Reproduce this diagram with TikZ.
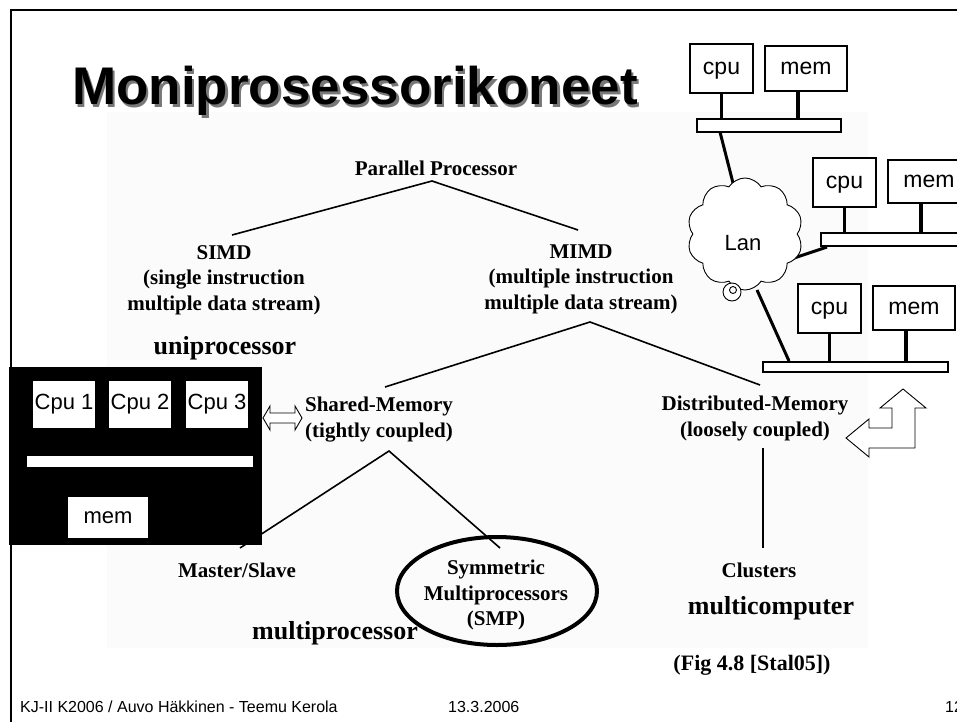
\documentclass[tikz,border=0pt]{standalone}
\usepackage{fontspec}
\setmainfont{Liberation Serif}
\newfontfamily\arialf{Liberation Sans}
\newfontfamily\timesf{Liberation Serif}
\usetikzlibrary{shapes.symbols,shapes.geometric}
\definecolor{scan}{RGB}{251,251,251}
\definecolor{shade}{RGB}{120,120,120}

\begin{document}
\begin{tikzpicture}[x=1pt,y=-1pt,
  lbl/.style={font=\timesf\bfseries\fontsize{21}{25.5}\selectfont, align=center, inner sep=0},
  biglbl/.style={font=\timesf\bfseries\fontsize{26}{30}\selectfont, inner sep=0},
  tree/.style={line width=1.6pt},
  netbox/.style={draw, line width=1.2pt, fill=white, inner sep=0, text depth=0pt, text height=12pt,
                 font=\arialf\fontsize{23}{26}\selectfont},
  netbar/.style={draw, line width=1.2pt, fill=white, inner sep=0},
  stub/.style={line width=3.5pt},
  netline/.style={line width=3pt},
  wbox/.style={fill=white, inner sep=0, font=\arialf\fontsize{22}{24}\selectfont},
  foot/.style={anchor=west, inner sep=0, font=\arialf\fontsize{16}{18}\selectfont}]
\useasboundingbox (0,0) rectangle (957,722);
\clip (0,0) rectangle (957,722);

% slide frame
\draw[line width=2pt] (11,722) -- (11,10) -- (960,10);

% scanned figure area
\fill[scan] (107,112) rectangle (868,648);

% title with drop shadow
\node[anchor=base west, inner sep=0, text=shade,
      font=\arialf\bfseries\fontsize{53}{60}\selectfont] at (74.5,107.5) {Moniprosessorikoneet};
\node[anchor=base west, inner sep=0,
      font=\arialf\bfseries\fontsize{53}{60}\selectfont] (title) at (72,105) {Moniprosessorikoneet};

% classification tree labels
\node[lbl] (pp) at (436,168) {Parallel Processor};
\node[lbl] (simd) at (224,280) {SIMD\\(single instruction\\multiple data stream)};
\node[lbl] (mimd) at (581,279) {MIMD\\(multiple instruction\\multiple data stream)};
\node[biglbl] (uni) at (225,348) {uniprocessor};
\node[lbl] (shm) at (379,419.5) {Shared-Memory\\(tightly coupled)};
\node[lbl] (dsm) at (755,418.5) {Distributed-Memory\\(loosely coupled)};
\node[lbl] (ms) at (237,570) {Master/Slave};
\node[lbl] (smp) at (496,595) {Symmetric\\Multiprocessors\\(SMP)};
\node[biglbl] (multip) at (335,633) {multiprocessor};
\node[lbl] (clu) at (759,570) {Clusters};
\node[biglbl] (multic) at (771,608) {multicomputer};
\node[lbl, font=\timesf\bfseries\fontsize{22}{26}\selectfont] (fig) at (752,665) {(Fig 4.8 [Stal05])};

% tree branch points
\coordinate (ppA) at (432,181);
\coordinate (simdT) at (232,235);
\coordinate (mimdT) at (578,230);
\coordinate (mimdA) at (590,322);
\coordinate (shmT) at (385,387);
\coordinate (dsmT) at (760,385);
\coordinate (shmA) at (389,451);
\coordinate (msT) at (240,548);
\coordinate (smpT) at (500,548);
\coordinate (dsmB) at (763,448);
\coordinate (cluT) at (763,548);

\draw[tree] (simdT) -- (ppA) -- (mimdT);
\draw[tree] (shmT) -- (mimdA) -- (dsmT);
\draw[tree] (msT) -- (shmA) -- (smpT);
\draw[tree] (dsmB) -- (cluT);

% ring round SMP
\node[draw, ellipse, line width=4pt, minimum width=200, minimum height=108, inner sep=0] (ring) at (497,591) {};

% shared-memory machine block
\node[fill=black, minimum width=253, minimum height=178, inner sep=0] (smpbox) at (135.5,456) {};
\node[wbox, minimum width=62, minimum height=47] (cpuA) at (64,404.5) {Cpu 1};
\node[wbox, minimum width=62, minimum height=47] (cpuB) at (140,404.5) {Cpu 2};
\node[wbox, minimum width=62, minimum height=47] (cpuC) at (217,404.5) {Cpu 3};
\node[wbox, minimum width=226, minimum height=11] (sbus) at (140,461.5) {};
\node[wbox, minimum width=80, minimum height=41] (smem) at (108,517.5) {mem};

% hollow double arrow
\draw[line width=0.9pt, fill=white] (263,418) -- (270,406) -- (270,413) -- (295,413) -- (295,406)
  -- (302,418) -- (295,430) -- (295,423) -- (270,423) -- (270,430) -- cycle;

% hollow bent arrow
\draw[line width=0.9pt, fill=white] (846,438) -- (869,419) -- (869,428) -- (892,428) -- (892,408)
  -- (880,408) -- (903,389) -- (926,408) -- (915,408) -- (915,448) -- (869,448) -- (869,457) -- cycle;

% network of computers
\coordinate (b1L) at (720,132);
\coordinate (lanT) at (733,183);
\coordinate (lanR) at (788,260);
\coordinate (b2L) at (827,247);
\coordinate (lanB) at (757,290);
\coordinate (b3L) at (789,361);
\draw[netline] (b1L) -- (lanT);
\draw[netline] (lanR) -- (b2L);
\draw[netline] (lanB) -- (b3L);

\node[cloud, draw, fill=white, cloud puffs=10, cloud puff arc=115, aspect=1,
      minimum width=116, minimum height=112, inner sep=0, line width=0.9pt] (lan) at (745,234) {};
\node[inner sep=0, font=\arialf\fontsize{22}{24}\selectfont] (lantxt) at (743,243) {Lan};
\draw[line width=0.9pt, fill=white] (732,292) circle [radius=9pt];
\draw[line width=0.9pt] (733,290) circle [radius=3.5pt];

% group 1
\node[netbox, minimum width=63, minimum height=49] (c1) at (721.5,68.5) {cpu};
\node[netbox, minimum width=82, minimum height=45] (m1) at (806,68.5) {mem};
\node[netbar, minimum width=144, minimum height=13] (b1) at (769,125.5) {};
\draw[stub] (c1.south) -- (c1.south |- b1.north);
\draw[stub] ([xshift=-8pt]m1.south) -- ([xshift=-8pt]m1.south |- b1.north);

% group 2
\node[netbox, minimum width=63, minimum height=49] (c2) at (844.5,182.5) {cpu};
\node[netbox, minimum width=82, minimum height=43] (m2) at (929,181.5) {mem};
\node[netbar, minimum width=179, minimum height=13] (b2) at (910.5,239.5) {};
\draw[stub] (c2.south) -- (c2.south |- b2.north);
\draw[stub] ([xshift=-8pt]m2.south) -- ([xshift=-8pt]m2.south |- b2.north);

% group 3
\node[netbox, minimum width=63, minimum height=49] (c3) at (829.5,308.5) {cpu};
\node[netbox, minimum width=82, minimum height=44] (m3) at (914,308) {mem};
\node[netbar, minimum width=185, minimum height=10] (b3) at (855.5,367) {};
\draw[stub] (c3.south) -- (c3.south |- b3.north);
\draw[stub] ([xshift=-8pt]m3.south) -- ([xshift=-8pt]m3.south |- b3.north);

% footer
\node[foot] (ft1) at (20,707) {KJ-II K2006 / Auvo Häkkinen - Teemu Kerola};
\node[foot] (ft2) at (448,707) {13.3.2006};
\node[foot] (ft3) at (945,707) {12};
\end{tikzpicture}
\end{document}
